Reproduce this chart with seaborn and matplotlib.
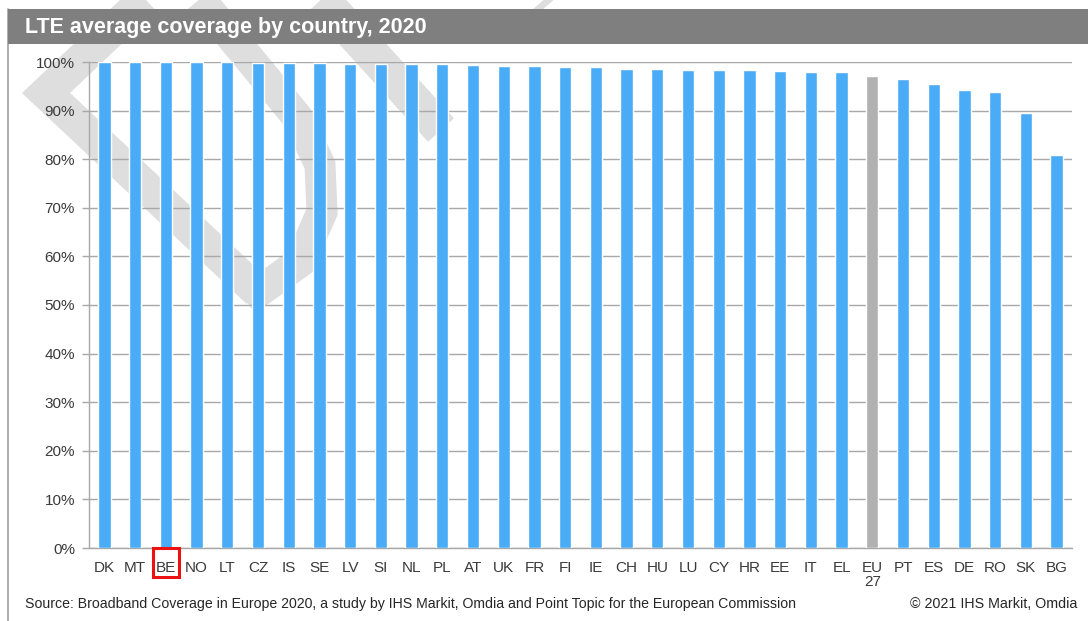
import matplotlib
matplotlib.use('Agg')
import matplotlib.pyplot as plt
import seaborn as sns
from matplotlib.lines import Line2D
from matplotlib.patches import Rectangle
from matplotlib.transforms import blended_transform_factory

countries = ['DK', 'MT', 'BE', 'NO', 'LT', 'CZ', 'IS', 'SE', 'LV', 'SI', 'NL', 'PL',
             'AT', 'UK', 'FR', 'FI', 'IE', 'CH', 'HU', 'LU', 'CY', 'HR', 'EE', 'IT',
             'EL', 'EU\n27', 'PT', 'ES', 'DE', 'RO', 'SK', 'BG']
coverage = [100.0, 100.0, 100.0, 99.9, 99.9, 99.7, 99.7, 99.7, 99.5, 99.5, 99.5, 99.5,
            99.3, 99.2, 99.2, 99.0, 99.0, 98.6, 98.6, 98.4, 98.4, 98.4, 98.2, 97.9,
            97.9, 97.1, 96.6, 95.4, 94.3, 93.9, 89.6, 80.8]
eu_label = 'EU\n27'
marked_label = 'BE'

BLUE = '#4aabf6'
GREY_BAR = '#b1b1b1'
W, H = 1088, 621


def px(x, y):
    # pixel position (from top-left) -> figure fraction
    return x / W, 1 - y / H


def watermark_band(fig, pts, lw_px):
    xs, ys = zip(*[px(x, y) for x, y in pts])
    fig.add_artist(Line2D(xs, ys, transform=fig.transFigure, color='#dedede',
                          lw=lw_px * 72 / 100, solid_capstyle='butt',
                          solid_joinstyle='miter', zorder=0))


def main():
    sns.set_style('white')
    plt.rcParams['font.family'] = ['Liberation Sans', 'DejaVu Sans']

    fig = plt.figure(figsize=(W / 100, H / 100), dpi=100)

    # faint watermark behind the chart
    watermark_band(fig, [(165, -20), (46, 93), (258, 292)], 33)
    watermark_band(fig, [(246, 301), (300, 262), (322, 212), (320, 165), (298, 118),
                         (238, 45), (180, -25)], 31)
    watermark_band(fig, [(300, -25), (441, 130)], 35)
    watermark_band(fig, [(515, -35), (549, 4)], 35)

    # outer frame and title bar
    fig.add_artist(Line2D([8 / W, 8 / W], [0, 1 - 9 / H], transform=fig.transFigure,
                          color='#a0a0a0', lw=1.2, zorder=1))
    x0, y1 = px(8, 44)
    fig.add_artist(Rectangle((x0, y1), 1 - x0, 35 / H, transform=fig.transFigure,
                             facecolor='#7f7f7f', edgecolor='none', zorder=2))
    fig.text(25 / W, 1 - 28 / H, 'LTE average coverage by country, 2020', color='white',
             fontsize=15.5, fontweight='bold', va='center', ha='left', zorder=3)

    left, bottom = px(89, 548)
    ax = fig.add_axes([left, bottom, (1072 - 89) / W, (548 - 62) / H])
    ax.patch.set_alpha(0)

    palette = {c: (GREY_BAR if c == eu_label else BLUE) for c in countries}
    sns.barplot(x=countries, y=coverage, hue=countries, palette=palette, width=0.4,
                saturation=1, legend=False, ax=ax, zorder=3)

    ax.set_ylim(0, 100)
    ax.set_xlim(-0.5, len(countries) - 0.5)
    ax.set_yticks(range(0, 101, 10))
    ax.set_yticklabels([f'{v}%' for v in range(0, 101, 10)])
    ax.set_axisbelow(True)
    ax.yaxis.grid(True, color='#a8a8a8', lw=1)
    ax.xaxis.grid(False)

    for s in ['top', 'right']:
        ax.spines[s].set_visible(False)
    for s in ['left', 'bottom']:
        ax.spines[s].set_color('#a8a8a8')
        ax.spines[s].set_linewidth(1)

    ax.set_xticks([i - 0.5 for i in range(len(countries) + 1)], minor=True)
    ax.tick_params(axis='x', which='major', length=0, pad=9, labelsize=11, labelcolor='#3a3a3a')
    ax.tick_params(axis='x', which='minor', length=5, color='#a8a8a8', width=1)
    ax.tick_params(axis='y', length=5, color='#a8a8a8', width=1, pad=5, labelsize=11,
                   labelcolor='#3a3a3a', left=True)
    ax.set_xlabel('')
    ax.set_ylabel('')
    for lab in ax.get_xticklabels():
        lab.set_linespacing(1.0)

    # red highlight box round one country label
    i = countries.index(marked_label)
    trans = blended_transform_factory(ax.transData, ax.transAxes)
    ax.add_patch(Rectangle((i - 0.42, -0.059), 0.84, 0.059, transform=trans,
                           facecolor='none', edgecolor='#ee1111', lw=2.2,
                           clip_on=False, zorder=5))

    fig.text(25 / W, 1 - 604 / H,
             'Source: Broadband Coverage in Europe 2020, a study by IHS Markit, Omdia and '
             'Point Topic for the European Commission',
             fontsize=10.2, color='#262626', va='center', ha='left')
    fig.text(1077 / W, 1 - 604 / H, '\u00a9 2021 IHS Markit, Omdia',
             fontsize=10.3, color='#262626', va='center', ha='right')

    fig.savefig('out.png', dpi=100)


main()
